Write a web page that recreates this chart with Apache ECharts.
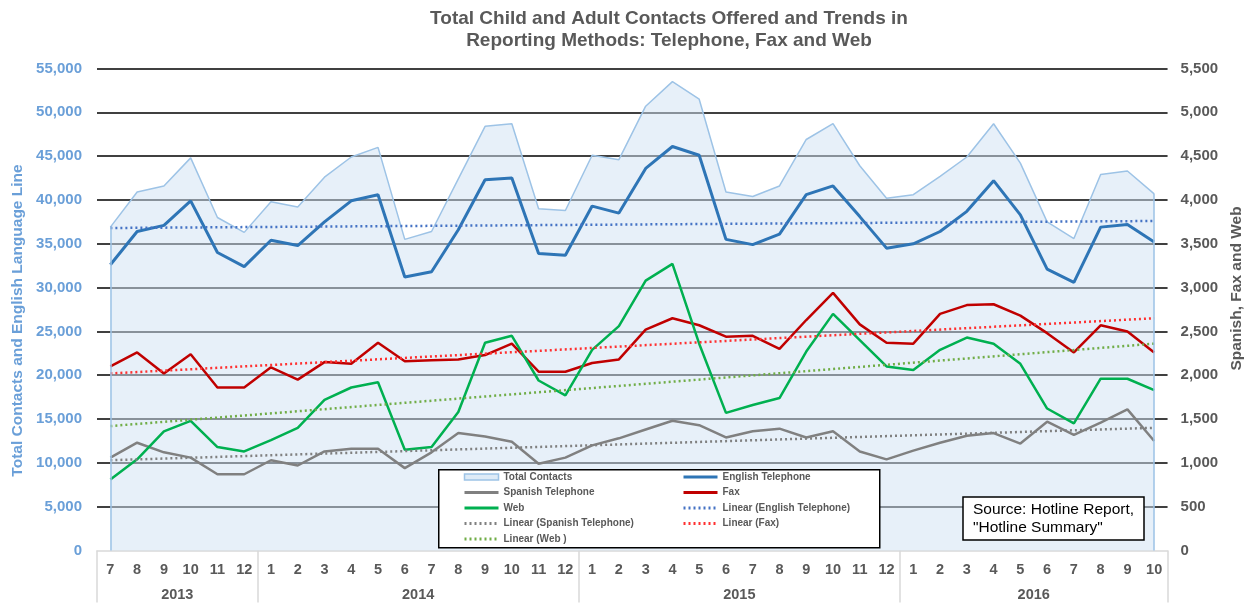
<!DOCTYPE html>
<html>
<head>
<meta charset="utf-8">
<title>Hotline contacts</title>
<script src="https://cdn.jsdelivr.net/npm/echarts@6/dist/echarts.min.js"></script>
<style>
  html, body { margin: 0; padding: 0; background: #fff; }
  #chart { width: 1253px; height: 603px; }
</style>
</head>
<body>
<div id="chart"></div>
<script>
// month labels, 2013-7 .. 2016-10
var months = ['7','8','9','10','11','12',
  '1','2','3','4','5','6','7','8','9','10','11','12',
  '1','2','3','4','5','6','7','8','9','10','11','12',
  '1','2','3','4','5','6','7','8','9','10'];
var years = ['2013', '2014', '2015', '2016'];
var yearMonths = [6, 12, 12, 10];

// left axis
var totalContacts = [36900, 40900, 41600, 44800, 38000, 36300, 39800, 39200, 42600, 44900,
  46000, 35500, 36400, 42400, 48400, 48700, 39000, 38800, 45100, 44600,
  50700, 53500, 51500, 40900, 40400, 41600, 46900, 48700, 43900, 40200,
  40600, 42700, 44900, 48700, 44200, 37500, 35600, 42900, 43300, 40700];
var englishTel = [32600, 36400, 37100, 39900, 34000, 32400, 35400, 34800, 37500, 39900,
  40600, 31200, 31800, 36600, 42300, 42500, 33900, 33700, 39300, 38500,
  43600, 46100, 45100, 35500, 34900, 36100, 40600, 41600, 38100, 34500,
  35000, 36400, 38700, 42200, 38300, 32100, 30600, 36900, 37200, 35200];

// right axis
var spanishTel = [1060, 1230, 1120, 1060, 870, 870, 1030, 970, 1130, 1160,
  1160, 940, 1120, 1340, 1300, 1240, 990, 1060, 1200, 1280,
  1380, 1480, 1430, 1290, 1360, 1390, 1290, 1360, 1130, 1040,
  1140, 1230, 1310, 1340, 1220, 1470, 1320, 1460, 1610, 1250];
var fax = [2100, 2260, 2020, 2240, 1860, 1860, 2090, 1950, 2150, 2130,
  2370, 2160, 2170, 2180, 2230, 2360, 2040, 2040, 2140, 2180,
  2520, 2650, 2570, 2440, 2450, 2300, 2630, 2940, 2580, 2370,
  2360, 2700, 2800, 2810, 2680, 2480, 2260, 2570, 2500, 2260];
var web = [810, 1040, 1360, 1480, 1180, 1130, 1260, 1400, 1720, 1860,
  1920, 1150, 1180, 1580, 2370, 2450, 1940, 1770, 2290, 2560,
  3080, 3270, 2360, 1570, 1660, 1740, 2270, 2700, 2400, 2100,
  2060, 2290, 2430, 2360, 2130, 1620, 1450, 1960, 1960, 1830];

// trend lines: value at first and last month
var trendEnglish = [36800, 37600];
var trendSpanish = [1030, 1400];
var trendFax = [2020, 2650];
var trendWeb = [1420, 2360];

var FONT = '"Liberation Sans", Arial, sans-serif';
var last = months.length - 1;

// year boundaries and centres on a 0..40 scale
var yearBounds = [0];
var yearCenters = [];
for (var i = 0; i < yearMonths.length; i++) {
  var s = yearBounds[i];
  yearBounds.push(s + yearMonths[i]);
  yearCenters.push(s + yearMonths[i] / 2);
}

function trend(name, vals, color, axis) {
  return {
    name: name, type: 'line', yAxisIndex: axis, symbol: 'none', silent: true,
    data: [[0, vals[0]], [last, vals[1]]],
    lineStyle: { color: color, width: 2.5, type: [2, 3] },
    itemStyle: { color: color },
    emphasis: { disabled: true }, z: 4
  };
}

function solid(name, vals, color, width, axis) {
  return {
    name: name, type: 'line', yAxisIndex: axis, symbol: 'none', silent: true,
    data: vals,
    lineStyle: { color: color, width: width },
    itemStyle: { color: color },
    emphasis: { disabled: true }, z: 3
  };
}

var legendText = { fontSize: 10, fontWeight: 'bold', color: '#595959', lineHeight: 12 };

var chart = echarts.init(document.getElementById('chart'));
chart.setOption({
  animation: false,
  backgroundColor: '#fff',
  textStyle: { fontFamily: FONT },
  title: [
    {
      text: 'Total Child and Adult Contacts Offered and Trends in\nReporting Methods: Telephone, Fax and Web',
      left: 669, top: 8, textAlign: 'center', padding: 0,
      textStyle: { fontSize: 19, fontWeight: 'bold', color: '#595959', lineHeight: 22 }
    },
    {
      text: 'Source: Hotline Report,\n"Hotline Summary"',
      left: 963, top: 497, padding: [4, 10, 4, 10],
      borderColor: '#000', borderWidth: 1.5, backgroundColor: '#fff',
      textStyle: { fontSize: 15.5, fontWeight: 'normal', color: '#000', lineHeight: 17.5 }
    }
  ],
  graphic: [{
    type: 'rect', left: 438, top: 469, z: 3,
    shape: { width: 441, height: 78 },
    style: { fill: '#fff', stroke: '#000', lineWidth: 1.5 }
  }],
  legend: [
    {
      orient: 'vertical', left: 463, top: 471, padding: 0, z: 5,
      itemWidth: 34, itemHeight: 6, itemGap: 3.5, textStyle: legendText,
      itemStyle: { opacity: 0 }, lineStyle: { width: 3 },
      data: [
        { name: 'Total Contacts', icon: 'rect', itemStyle: { color: '#deebf7', borderColor: '#9dc3e6', borderWidth: 1.5, opacity: 1 } },
        'Spanish Telephone', 'Web', 'Linear (Spanish Telephone)', 'Linear (Web )'
      ]
    },
    {
      orient: 'vertical', left: 682, top: 471, padding: 0, z: 5,
      itemWidth: 34, itemHeight: 6, itemGap: 3.5, textStyle: legendText,
      itemStyle: { opacity: 0 }, lineStyle: { width: 3 },
      data: ['English Telephone', 'Fax', 'Linear (English Telephone)', 'Linear (Fax)']
    }
  ],
  grid: { left: 97, right: 83, top: 68.5, bottom: 52.5 },
  xAxis: [
    {
      type: 'category', data: months, boundaryGap: true, position: 'bottom',
      axisLine: { lineStyle: { color: '#d9d9d9', width: 1.5 } },
      axisTick: { show: false },
      axisLabel: { interval: 0, margin: 12, color: '#595959', fontSize: 14.5, fontWeight: 'bold' },
      splitLine: { show: false }
    },
    {
      type: 'value', min: 0, max: months.length, position: 'bottom',
      axisLine: { show: false },
      splitLine: { show: false },
      axisTick: { show: true, customValues: yearBounds, length: 52, lineStyle: { color: '#d9d9d9', width: 1.5 } },
      axisLabel: {
        customValues: yearCenters, margin: 37, color: '#595959', fontSize: 14.5, fontWeight: 'bold',
        formatter: function (v) { var k = yearCenters.indexOf(v); return k >= 0 ? years[k] : ''; }
      }
    }
  ],
  yAxis: [
    {
      type: 'value', min: 0, max: 55000, interval: 5000, position: 'left',
      name: 'Total Contacts and English Language Line', nameLocation: 'middle', nameGap: 70, nameRotate: 90,
      nameTextStyle: { color: '#6a9fd8', fontSize: 15.5, fontWeight: 'bold', padding: [0, 22, 0, 0] },
      axisLine: { show: false }, axisTick: { show: false },
      axisLabel: { color: '#6a9fd8', fontSize: 15, fontWeight: 'bold', margin: 15,
        formatter: function (v) { return v.toLocaleString('en-US'); } },
      splitLine: { show: true, showMinLine: false, lineStyle: { color: '#000', width: 1.5 } }
    },
    {
      type: 'value', min: 0, max: 5500, interval: 500, position: 'right',
      name: 'Spanish, Fax and Web', nameLocation: 'middle', nameGap: 61, nameRotate: 90,
      nameTextStyle: { color: '#595959', fontSize: 15.5, fontWeight: 'bold', padding: [0, 0, 0, 42] },
      axisLine: { show: false }, axisTick: { show: false },
      axisLabel: { color: '#595959', fontSize: 15, fontWeight: 'bold', margin: 13,
        formatter: function (v) { return v.toLocaleString('en-US'); } },
      splitLine: { show: false }
    }
  ],
  series: [
    {
      name: 'Total Contacts', type: 'line', data: totalContacts, symbol: 'none', silent: true,
      lineStyle: { color: '#9dc3e6', width: 1.5 },
      itemStyle: { color: '#9dc3e6' },
      areaStyle: { color: 'rgba(208,226,244,0.72)' },
      emphasis: { disabled: true }, z: 2,
      markLine: {
        silent: true, symbol: 'none', label: { show: false },
        lineStyle: { color: '#9dc3e6', width: 1.5, type: 'solid' },
        data: [
          [{ coord: [0, 0] }, { coord: [0, totalContacts[0]] }],
          [{ coord: [last, 0] }, { coord: [last, totalContacts[last]] }]
        ]
      }
    },
    solid('English Telephone', englishTel, '#2e75b6', 3, 0),
    solid('Spanish Telephone', spanishTel, '#808080', 2.5, 1),
    solid('Fax', fax, '#c00000', 2.5, 1),
    solid('Web', web, '#00b050', 2.5, 1),
    trend('Linear (English Telephone)', trendEnglish, '#4472c4', 0),
    trend('Linear (Spanish Telephone)', trendSpanish, '#808080', 1),
    trend('Linear (Fax)', trendFax, '#ff3030', 1),
    trend('Linear (Web )', trendWeb, '#70ad47', 1)
  ]
});
</script>
</body>
</html>
